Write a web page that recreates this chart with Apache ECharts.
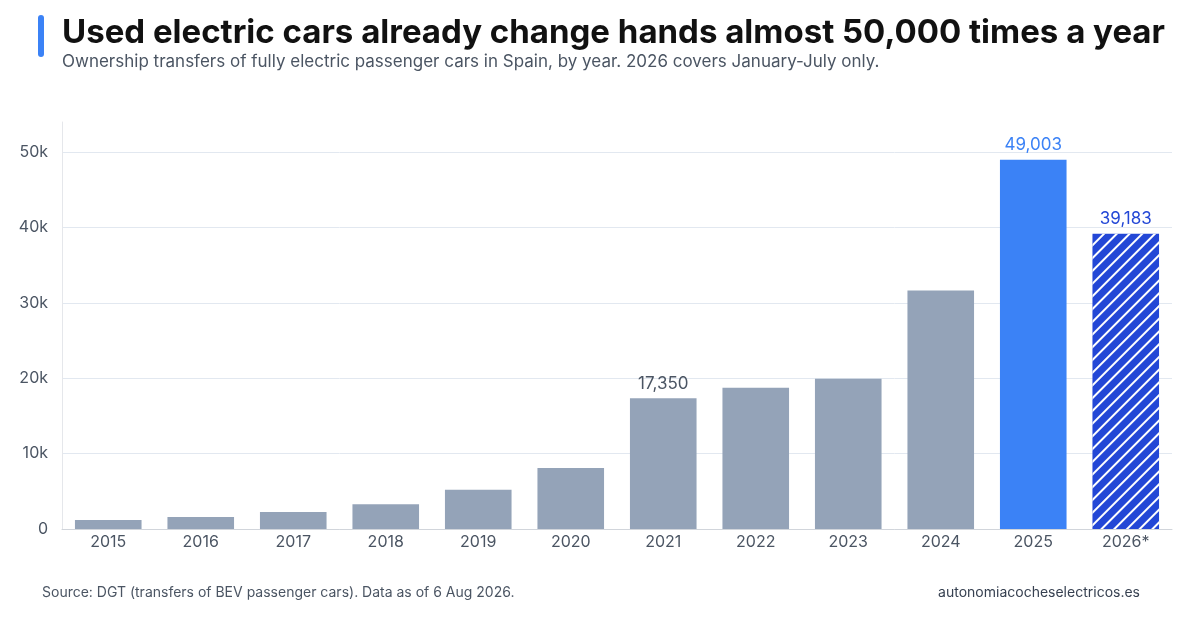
<!DOCTYPE html>
<html>
<head>
<meta charset="utf-8">
<script src="https://cdn.jsdelivr.net/npm/echarts@6/dist/echarts.min.js"></script>
<style>
  body { margin: 0; background: #fff; }
  #chart { width: 1200px; height: 619px; }
</style>
</head>
<body>
<div id="chart"></div>
<script>
var years = ['2015','2016','2017','2018','2019','2020','2021','2022','2023','2024','2025','2026*'];
var transfers = [1200, 1600, 2250, 3300, 5200, 8100, 17350, 18750, 19950, 31650, 49003, 39183];
var yTicks = [0, 10000, 20000, 30000, 40000, 50000];

var labelled = { 6: '#4b5563', 10: '#3b82f6', 11: '#2347d6' };

var barData = transfers.map(function (v, i) {
    var item = { value: v, itemStyle: { color: '#94a3b8' } };
    if (i === 10) item.itemStyle = { color: '#3b82f6' };
    if (i === 11) item.itemStyle = {
        color: '#2347d6',
        decal: { symbol: 'rect', color: '#ffffff', dashArrayX: [1, 0], dashArrayY: [2, 7], rotation: -Math.PI / 4 }
    };
    if (labelled[i]) item.label = {
        show: true, position: 'top', distance: 6, color: labelled[i], fontSize: 17,
        formatter: function (p) { return p.value.toLocaleString('en-US'); }
    };
    return item;
});

var myChart = echarts.init(document.getElementById('chart'));
myChart.setOption({
    backgroundColor: '#ffffff',
    textStyle: { fontFamily: 'Inter' },
    graphic: [
        { type: 'rect', left: 38, top: 15, shape: { width: 6, height: 42, r: 3 }, style: { fill: '#3b82f6' } },
        { type: 'text', left: 62, top: 17, style: { text: 'Used electric cars already change hands almost 50,000 times a year', font: 'bold 33px Inter', fill: '#111111' } },
        { type: 'text', left: 62, top: 53, style: { text: 'Ownership transfers of fully electric passenger cars in Spain, by year. 2026 covers January-July only.', font: '17px Inter', fill: '#4b5563' } },
        { type: 'text', left: 42, top: 586, style: { text: 'Source: DGT (transfers of BEV passenger cars). Data as of 6 Aug 2026.', font: '14px Inter', fill: '#4b5563' } },
        { type: 'text', right: 60, top: 586, style: { text: 'autonomiacocheselectricos.es', font: '14px Inter', fill: '#374151' } }
    ],
    grid: { left: 62, right: 28, top: 122, bottom: 90 },
    xAxis: {
        type: 'category',
        data: years,
        axisLine: { lineStyle: { color: '#d1d5db' } },
        axisTick: { show: false },
        axisLabel: { color: '#4b5563', fontSize: 16, margin: 5 }
    },
    yAxis: {
        type: 'value',
        min: 0, max: 54000, interval: 10000,
        axisLine: { show: true, lineStyle: { color: '#e5e7eb' } },
        splitLine: { showMaxLine: false, lineStyle: { color: '#e2e8f0' } },
        axisLabel: {
            color: '#4b5563', fontSize: 16, margin: 14,
            formatter: function (v) { return yTicks.indexOf(v) < 0 ? '' : (v === 0 ? '0' : v / 1000 + 'k'); }
        }
    },
    series: [{
        type: 'bar',
        data: barData,
        barCategoryGap: '28%'
    }]
});
</script>
</body>
</html>
